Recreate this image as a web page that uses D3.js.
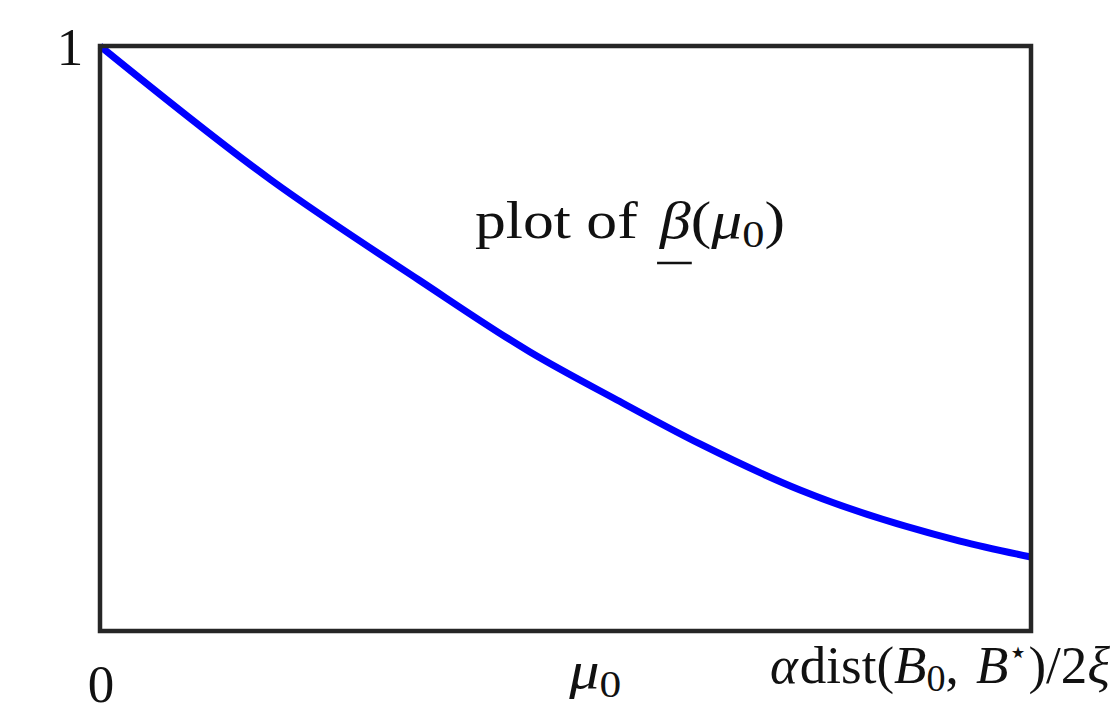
<!DOCTYPE html>
<html>
<head>
<meta charset="utf-8">
<script src="https://cdn.jsdelivr.net/npm/d3@7"></script>
<style>
  html, body { margin: 0; padding: 0; background: #fff; overflow: hidden; }
  svg { display: block; }
  text { font-family: "Liberation Serif", "DejaVu Serif", serif; fill: #111; }
</style>
</head>
<body>
<svg id="chart" width="1119" height="712"></svg>
<script>
// Curve samples: normalised position on the horizontal axis and beta value
const curveX = [0, 0.1837, 0.3426, 0.4619, 0.5553, 0.6445, 0.7519, 0.9237, 1];
const curveY = [1, 0.7709, 0.6000, 0.4769, 0.3949, 0.3197, 0.2410, 0.1538, 0.1265];

// Axis tick positions
const xTickValues = [0, 0.532, 1];
const yTickValues = [1];

const width = 1119, height = 712;
const margin = { left: 100, right: 88, top: 46, bottom: 81 };

const svg = d3.select("#chart");

const x = d3.scaleLinear().domain([0, 1]).range([margin.left, width - margin.right]);
const y = d3.scaleLinear().domain([0, 1]).range([height - margin.bottom, margin.top]);

// Curve
const line = d3.line()
  .x(d => x(d[0]))
  .y(d => y(d[1]))
  .curve(d3.curveMonotoneX);

svg.append("path")
  .datum(d3.zip(curveX, curveY))
  .attr("d", line)
  .attr("fill", "none")
  .attr("stroke", "#0000ff")
  .attr("stroke-width", 7)
  .attr("stroke-linecap", "butt");

// Frame
svg.append("rect")
  .attr("x", x(0))
  .attr("y", y(1))
  .attr("width", x(1) - x(0))
  .attr("height", y(0) - y(1))
  .attr("fill", "none")
  .attr("stroke", "#262626")
  .attr("stroke-width", 4.5);

const fs = 53;

// Y tick label "1"
svg.selectAll("text.ytick")
  .data(yTickValues)
  .join("text")
  .attr("class", "ytick")
  .attr("x", x(0) - 30)
  .attr("y", d => y(d) + 19)
  .attr("text-anchor", "middle")
  .attr("font-size", fs)
  .text("1");

// X tick "0"
svg.append("text")
  .attr("x", x(xTickValues[0]) + 1)
  .attr("y", y(0) + 71)
  .attr("text-anchor", "middle")
  .attr("font-size", fs)
  .text("0");

// X tick "μ0"
const mu = svg.append("text")
  .attr("x", x(xTickValues[1]) - 26)
  .attr("y", y(0) + 57)
  .attr("font-size", fs)
  .attr("textLength", 52)
  .attr("lengthAdjust", "spacingAndGlyphs");
mu.append("tspan").attr("font-style", "italic").text("μ");
mu.append("tspan").attr("font-size", fs * 0.72).attr("dy", 9).text("0");

// X tick at the right end: αdist(B0, B⋆)/2ξ
const rt = svg.append("text")
  .attr("x", x(xTickValues[2]) - 261)
  .attr("y", y(0) + 52)
  .attr("font-size", fs);
rt.append("tspan").attr("font-style", "italic").text("α");
rt.append("tspan").attr("dx", 2).text("dist(");
rt.append("tspan").attr("font-style", "italic").text("B");
rt.append("tspan").attr("font-size", fs * 0.72).attr("dy", 8).text("0");
rt.append("tspan").attr("dy", -8).text(", ");
rt.append("tspan").attr("dx", 4).attr("font-style", "italic").text("B");
rt.append("tspan").attr("font-size", fs * 0.6).attr("dy", -20).text("⋆");
rt.append("tspan").attr("dy", 20).text(")/2");
rt.append("tspan").attr("font-style", "italic").text("ξ");

// Annotation: plot of β(μ0) with underlined β
const ann = svg.append("text")
  .attr("x", 475)
  .attr("y", 238)
  .attr("font-size", fs)
  .attr("textLength", 310)
  .attr("lengthAdjust", "spacingAndGlyphs");
ann.append("tspan").text("plot of ");
const betaSpan = ann.append("tspan").attr("dx", 6).attr("font-style", "italic").text("β");
ann.append("tspan").text("(");
ann.append("tspan").attr("font-style", "italic").text("μ");
ann.append("tspan").attr("font-size", fs * 0.72).attr("dy", 9).text("0");
ann.append("tspan").attr("dy", -9).text(")");

// Underline under β, measured from the rendered glyph
const bNode = betaSpan.node();
const start = bNode.getStartPositionOfChar(0);
const end = bNode.getEndPositionOfChar(0);
svg.append("line")
  .attr("x1", start.x - 3)
  .attr("x2", end.x + 1)
  .attr("y1", 263)
  .attr("y2", 263)
  .attr("stroke", "#111")
  .attr("stroke-width", 2.5);
</script>
</body>
</html>
